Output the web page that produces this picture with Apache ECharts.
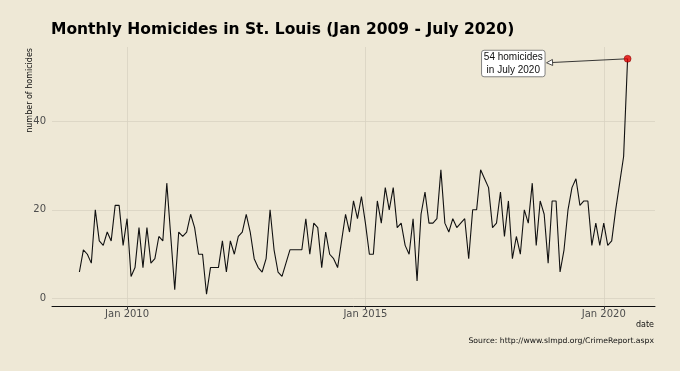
<!DOCTYPE html>
<html><head><meta charset="utf-8">
<script src="https://cdn.jsdelivr.net/npm/echarts@6/dist/echarts.min.js"></script>
<style>html,body{margin:0;padding:0;background:#eee8d6}#c{width:680px;height:371px}</style>
</head><body><div id="c"></div>
<script>
const startYear = 2009;
const monthNames = ['Jan','Feb','Mar','Apr','May','Jun','Jul','Aug','Sep','Oct','Nov','Dec'];
const homicides = [
  6, 11, 10, 8, 20, 13, 12, 15, 13, 21, 21, 12,
  18, 5, 7, 16, 7, 16, 8, 9, 14, 13, 26, 14,
  2, 15, 14, 15, 19, 16, 10, 10, 1, 7, 7, 7,
  13, 6, 13, 10, 14, 15, 19, 15, 9, 7, 6, 9,
  20, 11, 6, 5, 8, 11, 11, 11, 11, 18, 10, 17,
  16, 7, 15, 10, 9, 7, 13, 19, 15, 22, 18, 23,
  17, 10, 10, 22, 17, 25, 20, 25, 16, 17, 12, 10,
  18, 4, 19, 24, 17, 17, 18, 29, 17, 15, 18, 16,
  17, 18, 9, 20, 20, 29, 27, 25, 16, 17, 24, 14,
  22, 9, 14, 10, 20, 17, 26, 12, 22, 19, 8, 22,
  22, 6, 11, 20, 25, 27, 21, 22, 22, 12, 17, 12,
  17, 12, 13, 20, 26, 32, 54
];
const xTickMonthIndex = [12, 72, 132];
const yTicks = [0, 20, 40];
const titleText = 'Monthly Homicides in St. Louis (Jan 2009 - July 2020)';
const yAxisTitle = 'number of homicides';
const xAxisTitle = 'date';
const sourceText = 'Source: http://www.slmpd.org/CrimeReport.aspx';

function monthLabel(i) {
  return monthNames[i % 12] + ' ' + (startYear + Math.floor(i / 12));
}
const lastIdx = homicides.length - 1;
const lastLabel = homicides[lastIdx] + ' homicides\nin ' + ['January','February','March','April','May','June','July','August','September','October','November','December'][lastIdx % 12] + ' ' + (startYear + Math.floor(lastIdx / 12));

const yMin = -1.65, yMax = 56.65;
const xMin = -6.9, xMax = lastIdx + 6.9;
const gridColor = '#d8d2c1';

const chart = echarts.init(document.getElementById('c'), null, {renderer: 'canvas'});
chart.setOption({
  animation: false,
  backgroundColor: '#eee8d6',
  title: {
    text: titleText, left: 51, top: 22, padding: 0,
    textStyle: {fontFamily: 'DejaVu Sans', fontWeight: 'bold', fontSize: 15.5, color: '#000'}
  },
  grid: {left: 52, right: 25, top: 47, bottom: 65},
  xAxis: {
    type: 'value', min: xMin, max: xMax,
    axisLine: {show: true, onZero: false, lineStyle: {color: '#111', width: 1}},
    axisTick: {show: true, customValues: xTickMonthIndex, length: 3, lineStyle: {color: '#333', width: 1}},
    axisLabel: {customValues: xTickMonthIndex, formatter: v => monthLabel(Math.round(v)),
      color: '#4d4d4d', fontSize: 10, fontFamily: 'DejaVu Sans', margin: 3},
    splitLine: {show: true, lineStyle: {color: gridColor, width: 0.8}}
  },
  yAxis: {
    type: 'value', min: yMin, max: yMax,
    axisLine: {show: false},
    axisTick: {show: false, customValues: yTicks},
    axisLabel: {customValues: yTicks, color: '#4d4d4d', fontSize: 10, fontFamily: 'DejaVu Sans', margin: 6},
    splitLine: {show: true, lineStyle: {color: gridColor, width: 0.8}}
  },
  series: [
    {type: 'line', data: homicides.map((v, i) => [i, v]), showSymbol: false,
     lineStyle: {color: '#111', width: 1.1}, z: 3},
    {type: 'scatter', data: [[lastIdx, homicides[lastIdx]]], symbolSize: 7,
     itemStyle: {color: '#e30000', borderColor: '#700', borderWidth: 0.6}, z: 5}
  ]
});

const p = chart.convertToPixel({gridIndex: 0}, [lastIdx, homicides[lastIdx]]);
const tip = chart.convertToPixel({gridIndex: 0}, [117.6, 53.1]);
const dx = p[0] - tip[0], dy = p[1] - tip[1];
const len = Math.sqrt(dx * dx + dy * dy);
const ux = dx / len, uy = dy / len;
const aL = 6, aW = 3;
const bx = tip[0] + ux * aL, by = tip[1] + uy * aL;
const boxW = 63.5, boxH = 26.5;
const boxX = tip[0] - 65, boxY = tip[1] - 12.5;

chart.setOption({
  graphic: [
    {type: 'line', shape: {x1: p[0], y1: p[1], x2: bx, y2: by}, style: {stroke: '#222', lineWidth: 0.9}, z: 4},
    {type: 'polygon', shape: {points: [[tip[0], tip[1]], [bx - uy * aW, by + ux * aW], [bx + uy * aW, by - ux * aW]]},
     style: {fill: '#fff', stroke: '#222', lineWidth: 0.8}, z: 4},
    {type: 'rect', shape: {x: boxX, y: boxY, width: boxW, height: boxH, r: 2.5},
     style: {fill: '#fff', stroke: '#666', lineWidth: 0.8}, z: 4},
    {type: 'text', x: boxX + boxW / 2, y: boxY + boxH / 2, z: 5,
     style: {text: lastLabel, fontFamily: 'Liberation Sans', fontSize: 10, fill: '#111',
       align: 'center', verticalAlign: 'middle', lineHeight: 13.4}},
    {type: 'text', x: 30, y: 48, rotation: Math.PI / 2,
     style: {text: yAxisTitle, fontFamily: 'DejaVu Sans', fontSize: 8, fill: '#111', align: 'right', verticalAlign: 'middle'}},
    {type: 'text', x: 654, y: 325,
     style: {text: xAxisTitle, fontFamily: 'DejaVu Sans', fontSize: 8, fill: '#111', align: 'right', verticalAlign: 'middle'}},
    {type: 'text', x: 654, y: 341.5,
     style: {text: sourceText, fontFamily: 'DejaVu Sans', fontSize: 7.7, fill: '#111', align: 'right', verticalAlign: 'middle'}}
  ]
});
</script>
</body></html>
